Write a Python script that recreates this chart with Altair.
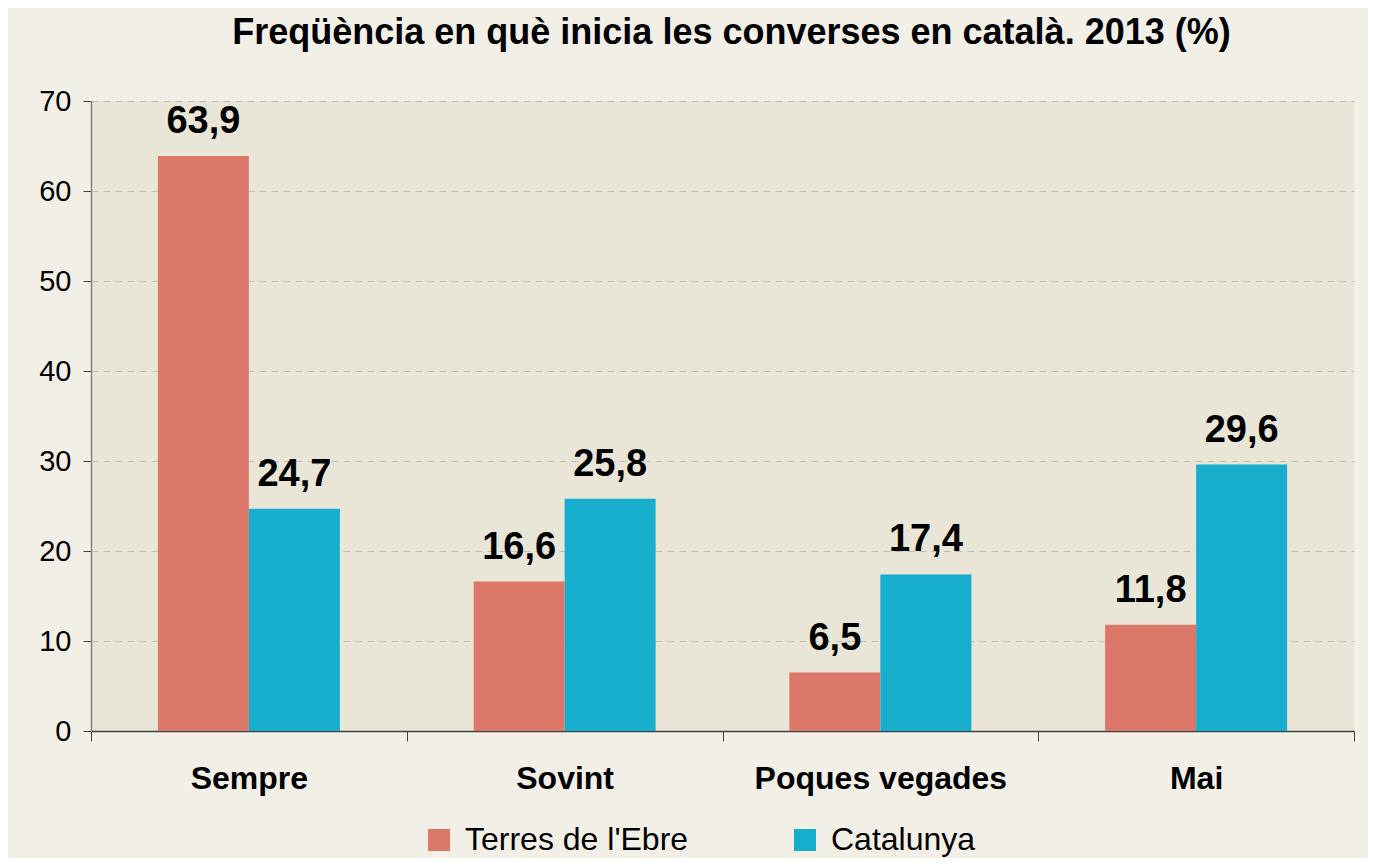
import altair as alt
import pandas as pd

categories = ["Sempre", "Sovint", "Poques vegades", "Mai"]
series = ["Terres de l'Ebre", "Catalunya"]
terres = [63.9, 16.6, 6.5, 11.8]
catalunya = [24.7, 25.8, 17.4, 29.6]
colors = ["#DC7869", "#16AECC"]
y_ticks = [0, 10, 20, 30, 40, 50, 60, 70]
title_text = "Freqüència en què inicia les converses en català. 2013 (%)"

rows = []
for c, t, k in zip(categories, terres, catalunya):
    rows.append({"cat": c, "serie": series[0], "v": t})
    rows.append({"cat": c, "serie": series[1], "v": k})
df = pd.DataFrame(rows)

FONT = "Liberation Sans"

x_enc = alt.X(
    "cat:N", sort=categories, title=None,
    scale=alt.Scale(paddingInner=0, paddingOuter=0),
    axis=alt.Axis(
        labelFont=FONT, labelFontSize=32, labelFontWeight="bold", labelColor="#000000",
        labelAngle=0, labelPadding=22, labelLimit=600, tickBand="extent", tickSize=10,
        tickColor="#404040", domainColor="#404040", domainWidth=1.5, grid=False,
    ),
)
y_enc = alt.Y(
    "v:Q", title=None,
    scale=alt.Scale(domain=[0, 70], nice=False),
    axis=alt.Axis(
        values=y_ticks, labelFont=FONT, labelFontSize=29, labelColor="#000000",
        labelPadding=12, tickSize=8, tickColor="#404040", domainColor="#808080",
        domainWidth=1.5, grid=True, gridColor="#BDBDBD", gridDash=[7, 5], gridWidth=1,
    ),
)
xoff = alt.XOffset("serie:N", sort=series, scale=alt.Scale(paddingInner=0, paddingOuter=0.735))

bars = alt.Chart(df).mark_bar().encode(
    x=x_enc, y=y_enc, xOffset=xoff,
    color=alt.Color(
        "serie:N", sort=series,
        scale=alt.Scale(domain=series, range=colors),
        legend=alt.Legend(
            title=None, orient="none", legendX=332, legendY=723, direction="horizontal",
            symbolType="square", symbolSize=484, symbolStrokeWidth=0,
            labelFont=FONT, labelFontSize=32, labelColor="#000000", labelOffset=10,
            columnPadding=100, padding=0, labelLimit=600,
        ),
    ),
)

labels = alt.Chart(df).transform_calculate(
    lbl="replace(format(datum.v, '.1f'), '.', ',')"
).mark_text(
    font=FONT, fontSize=38, fontWeight="bold", color="#000000",
    baseline="alphabetic", dy=-23,
).encode(x=x_enc, y=y_enc, xOffset=xoff, text="lbl:N")

chart = alt.layer(bars, labels).properties(
    width=1263, height=630,
    title=alt.TitleParams(
        title_text, font=FONT, fontSize=36, fontWeight="bold", color="#000000",
        anchor="middle", frame="group", baseline="alphabetic", offset=7, dx=9,
    ),
    background="#F2EFE7",
    padding={"left": 83, "top": 93, "right": 14, "bottom": 127},
    autosize=alt.AutoSizeParams(type="none"),
).configure_view(fill="#E9E6D7", stroke=None)

chart.save("out.html", embed_options={"renderer": "svg", "actions": False})
